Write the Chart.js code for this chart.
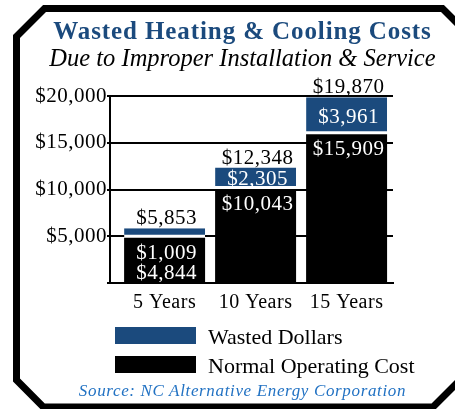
<!DOCTYPE html>
<html>
<head>
<meta charset="utf-8">
<script src="https://cdn.jsdelivr.net/npm/chart.js@4"></script>
<style>
  body { margin: 0; background: #fff; }
  #wrap { position: relative; width: 455px; height: 409px; overflow: hidden; font-family: "Liberation Serif", "Times New Roman", serif; }
  #frame, #chart { position: absolute; left: 0; top: 0; }
  .txt { position: absolute; white-space: nowrap; line-height: 1; }
  #title { left: 30px; width: 425px; text-align: center; top: 18px; font-size: 25px; font-weight: bold; letter-spacing: 0.9px; color: #1b4a7d; }
  #subtitle { left: 30px; width: 425px; text-align: center; top: 46px; font-size: 24.5px; font-style: italic; color: #000; }
  #source { left: 30px; width: 425px; text-align: center; top: 382px; font-size: 17px; font-style: italic; letter-spacing: 0.65px; color: #2272c3; }
  .box { position: absolute; left: 115px; width: 81px; height: 17px; }
  .lbl { position: absolute; left: 208px; font-size: 22px; line-height: 1; white-space: nowrap; color: #000; }
</style>
</head>
<body>
<div id="wrap">
  <svg id="frame" width="455" height="409">
    <polygon points="44.5,8.5 442.5,8.5 470,36 470,370 433,407 43.3,407 16.5,380 16.5,36.5"
             fill="#fff" stroke="#000" stroke-width="7" stroke-linejoin="miter"/>
  </svg>
  <canvas id="chart" width="455" height="409"></canvas>
  <div class="txt" id="title">Wasted Heating &amp; Cooling Costs</div>
  <div class="txt" id="subtitle">Due to Improper Installation &amp; Service</div>
  <div id="legend"></div>
  <div class="txt" id="source">Source: NC Alternative Energy Corporation</div>
</div>
<script>
const categories = ['5 Years', '10 Years', '15 Years'];
const normalCost = [4844, 10043, 15909];
const wastedDollars = [1009, 2305, 3961];
const yTickValues = [0, 5000, 10000, 15000, 20000];

const serif = '"Liberation Serif", "Times New Roman", serif';
const money = v => '$' + v.toLocaleString('en-US');

// a touch wider letters, the original type is a bit stretched
const spacing = {
    id: 'spacing',
    beforeDraw(chart) {
        chart.ctx.letterSpacing = '0.5px';
    }
};

// totals above, pieces inside the bars
const barLabels = {
    id: 'barLabels',
    afterDatasetsDraw(chart) {
        const ctx = chart.ctx;
        const normalBars = chart.getDatasetMeta(0).data;
        const wastedBars = chart.getDatasetMeta(1).data;
        ctx.save();
        ctx.font = '21px ' + serif;
        ctx.letterSpacing = '0.5px';
        ctx.textAlign = 'center';
        ctx.textBaseline = 'alphabetic';
        normalBars.forEach((nb, i) => {
            const wb = wastedBars[i];
            const x = nb.x + 2;
            ctx.fillStyle = '#000';
            ctx.fillText(money(normalCost[i] + wastedDollars[i]), x, wb.y - 4);
            ctx.fillStyle = '#fff';
            let wy, ny;
            if (wb.base - wb.y >= 18) {
                wy = (wb.y + wb.base) / 2 + 7;
                ny = nb.y + 21;
            } else {
                wy = nb.y + 21;
                ny = nb.y + 41;
            }
            ctx.fillText(money(wastedDollars[i]), x, wy);
            ctx.fillText(money(normalCost[i]), x, ny);
        });
        ctx.restore();
    }
};

const chart = new Chart(document.getElementById('chart'), {
    type: 'bar',
    data: {
        datasets: [{
            label: 'Normal Operating Cost',
            data: normalCost.map((v, i) => ({ x: i + 1, y: v })),
            backgroundColor: '#000',
            borderWidth: 0
        }, {
            label: 'Wasted Dollars',
            data: wastedDollars.map((v, i) => ({ x: i + 1, y: v })),
            backgroundColor: '#1b4a7d',
            borderColor: '#fff',
            borderWidth: { top: 0, right: 0, bottom: 3, left: 0 },
            borderSkipped: false
        }]
    },
    options: {
        responsive: false,
        animation: false,
        layout: { padding: { left: 0, top: 96, right: 62, bottom: 96 } },
        datasets: { bar: { categoryPercentage: 1, barPercentage: 0.89 } },
        plugins: {
            legend: { display: false },
            tooltip: { enabled: false }
        },
        scales: {
            x: {
                type: 'linear',
                stacked: true,
                offset: false,
                min: 0.4,
                max: 3.51,
                afterBuildTicks: scale => {
                    scale.ticks = categories.map((c, i) => ({ value: i + 1 }));
                },
                afterFit: scale => { scale.height = 30; },
                grid: { display: false },
                border: { color: '#000', width: 2, z: 1 },
                ticks: {
                    color: '#000',
                    font: { family: serif, size: 20 },
                    padding: 0,
                    maxRotation: 0,
                    callback: v => categories[v - 1] || ''
                }
            },
            y: {
                stacked: true,
                min: 0,
                max: 20000,
                afterBuildTicks: scale => {
                    scale.ticks = yTickValues.map(v => ({ value: v }));
                },
                afterFit: scale => { scale.width = 110; },
                grid: { color: '#000', lineWidth: 2, tickLength: 3 },
                border: { color: '#000', width: 2, z: 1 },
                ticks: {
                    color: '#000',
                    font: { family: serif, size: 21 },
                    padding: 0,
                    callback: v => v === 0 ? '' : money(v)
                }
            }
        }
    },
    plugins: [spacing, barLabels]
});

// legend: wasted first, like the original
const legend = document.getElementById('legend');
chart.data.datasets.slice().reverse().forEach((ds, k) => {
    const box = document.createElement('div');
    box.className = 'box';
    box.style.top = (327 + k * 29) + 'px';
    box.style.background = ds.backgroundColor;
    const lbl = document.createElement('div');
    lbl.className = 'lbl';
    lbl.style.top = (326 + k * 28.5) + 'px';
    lbl.textContent = ds.label;
    legend.appendChild(box);
    legend.appendChild(lbl);
});
</script>
</body>
</html>
